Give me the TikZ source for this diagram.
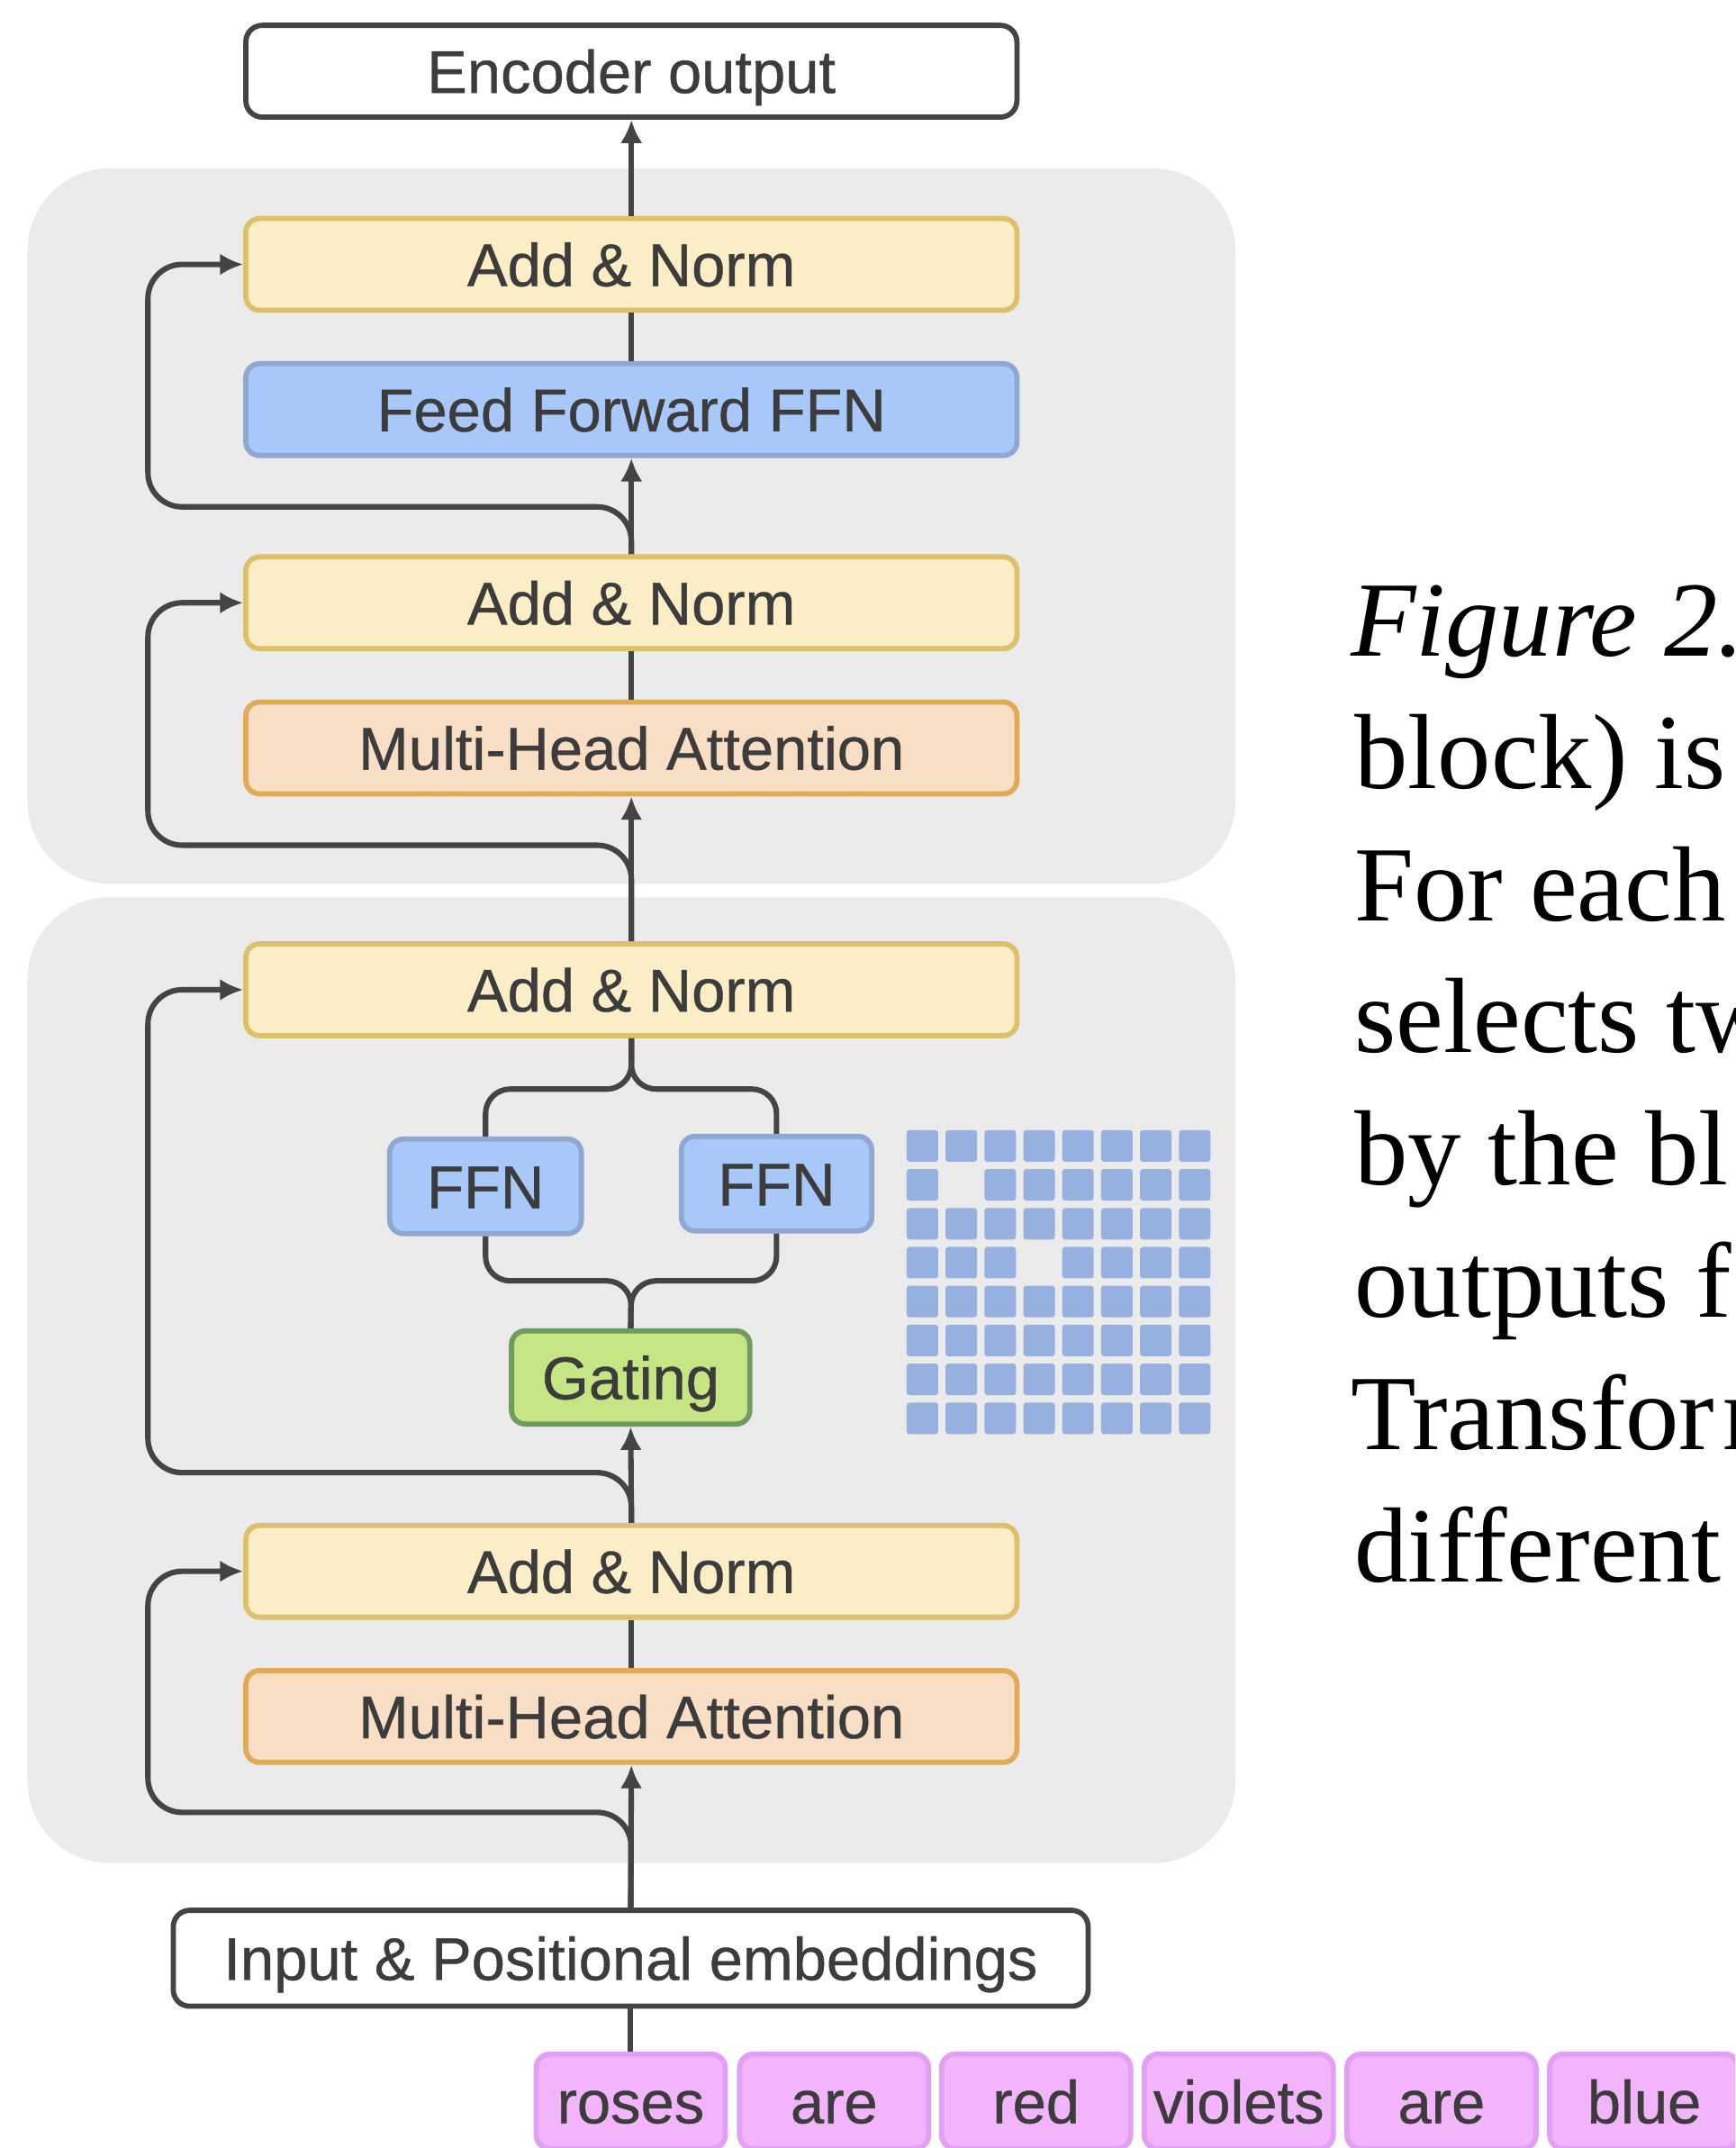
\documentclass[tikz,border=0pt]{standalone}
\usepackage{fontspec}
\setmainfont{Liberation Sans}
\newfontfamily\diafont{Liberation Sans}[BoldFont={Liberation Sans}, BoldFeatures={FakeBold=0.6}]
\newfontfamily\capfont{Liberation Serif}
\usetikzlibrary{arrows.meta}
\definecolor{linec}{HTML}{444444}
\definecolor{txtc}{HTML}{3C3C3C}
\definecolor{panelc}{HTML}{EBEBEB}
\definecolor{anfill}{HTML}{FBEDC6}
\definecolor{andraw}{HTML}{DEBF6A}
\definecolor{fffill}{HTML}{A9C8FA}
\definecolor{ffdraw}{HTML}{8FA8D2}
\definecolor{mhfill}{HTML}{F8DEC5}
\definecolor{mhdraw}{HTML}{DFAB55}
\definecolor{gtfill}{HTML}{C6E584}
\definecolor{gtdraw}{HTML}{6E9C5E}
\definecolor{gridc}{HTML}{96B1E0}
\definecolor{tkfill}{HTML}{F2B4FB}
\definecolor{tkdraw}{HTML}{E2A0F4}
\begin{document}
\begin{tikzpicture}[x=1pt,y=-1pt,
  box/.style={rectangle, rounded corners=10pt, line width=3.8pt, inner sep=0pt,
    text height=31.7pt, text depth=0pt, text=txtc,
    font=\diafont\bfseries\fontsize{44}{50}\selectfont, minimum height=67pt, minimum width=563pt},
  whitebox/.style={box, draw=linec, fill=white, rounded corners=12pt},
  anbox/.style={box, draw=andraw, fill=anfill},
  ffbox/.style={box, draw=ffdraw, fill=fffill},
  mhbox/.style={box, draw=mhdraw, fill=mhfill},
  gtbox/.style={box, draw=gtdraw, fill=gtfill},
  tkbox/.style={box, draw=tkdraw, fill=tkfill, minimum width=138pt, minimum height=69pt},
  conn/.style={draw=linec, line width=4pt},
  arr/.style={conn, -{Latex[length=17pt,width=16pt]}},
  captxt/.style={anchor=base west, inner sep=0pt, font=\capfont\fontsize{78}{96}\selectfont, text=black}
]
\clip (0,0) rectangle (1267,1568);
\fill[white] (0,0) rectangle (1267,1568);
% panels
\fill[panelc, rounded corners=60pt] (20,123) rectangle (902,645);
\fill[panelc, rounded corners=60pt] (20,655) rectangle (902,1360);
% grid
\foreach \r in {0,...,7}{\foreach \c in {0,...,7}{
  \pgfmathtruncatemacro{\k}{\r*10+\c}
  \ifnum\k=11\relax\else\ifnum\k=33\relax\else
    \fill[gridc, rounded corners=2pt] ({662+\c*28.4},{825+\r*28.4}) rectangle ++(23,23);
  \fi\fi
}}
% nodes
\node[whitebox] (enc) at (461,52) {Encoder output};
\node[anbox] (an1) at (461,193) {Add \& Norm};
\node[ffbox] (ffn) at (461,299) {Feed Forward FFN};
\node[anbox] (an2) at (461,440) {Add \& Norm};
\node[mhbox] (mha1) at (461,546) {Multi-Head Attention};
\node[anbox] (an3) at (461,722.5) {Add \& Norm};
\node[ffbox, minimum width=140pt, minimum height=69pt] (ffnL) at (354.5,866) {FFN};
\node[ffbox, minimum width=139pt, minimum height=69pt] (ffnR) at (567,864) {FFN};
\node[gtbox, minimum width=174pt, minimum height=68pt] (gate) at (460.5,1005.5) {Gating};
\node[anbox] (an4) at (461,1147) {Add \& Norm};
\node[mhbox] (mha2) at (461,1253) {Multi-Head Attention};
\node[whitebox, minimum width=668pt, minimum height=70pt] (inp) at (460.5,1429.5) {Input \& Positional embeddings};
% tokens
\node[tkbox] (tk1) at (460.5,1534) {roses};
\node[tkbox] (tk2) at (609,1534) {are};
\node[tkbox] (tk3) at (756.5,1534) {red};
\node[tkbox] (tk4) at (904.5,1534) {violets};
\node[tkbox] (tk5) at (1052.5,1534) {are};
\node[tkbox] (tk6) at (1200.5,1534) {blue};
% spine
\draw[conn] (tk1.north) -- (inp.south);
\draw[arr] (inp.north) -- (mha2.south);
\draw[conn] (mha2.north) -- (an4.south);
\draw[arr] (an4.north) -- (gate.south);
\draw[arr] (an3.north) -- (mha1.south);
\draw[conn] (mha1.north) -- (an2.south);
\draw[arr] (an2.north) -- (ffn.south);
\draw[conn] (ffn.north) -- (an1.south);
\draw[arr] (an1.north) -- (enc.south);
% experts branch
\draw[conn, rounded corners=18pt] (an3.south) -- (461,795) -- (354.5,795) -- (ffnL.north);
\draw[conn, rounded corners=18pt] (an3.south) -- (461,795) -- (567,795) -- (ffnR.north);
\draw[conn, rounded corners=18pt] (ffnL.south) -- (354.5,935) -- (461,935) -- (gate.north);
\draw[conn, rounded corners=18pt] (ffnR.south) -- (567,935) -- (461,935) -- (gate.north);
% residual connections
\draw[arr, rounded corners=25pt] (an2.north) -- (461,370) -- (108,370) -- (108,193) -- (an1.west);
\draw[arr, rounded corners=25pt] (an3.north) -- (461,617) -- (108,617) -- (108,440) -- (an2.west);
\draw[arr, rounded corners=25pt] (an4.north) -- (461,1075) -- (108,1075) -- (108,722.5) -- (an3.west);
\draw[arr, rounded corners=25pt] (inp.north) -- (461,1323) -- (108,1323) -- (108,1147) -- (an4.west);
% caption
\node[captxt] (c1) at (986,479) {\itshape Figure 2.};
\node[captxt] (c2) at (989,575.5) {block) is};
\node[captxt] (c3) at (989,672) {For each};
\node[captxt] (c4) at (989,768.5) {selects tw};
\node[captxt] (c5) at (989,865) {by the bl};
\node[captxt] (c6) at (989,961.5) {outputs f};
\node[captxt] (c7) at (986,1058) {Transfor\kern6pt m};
\node[captxt] (c8) at (989,1154.5) {different};
\end{tikzpicture}
\end{document}
